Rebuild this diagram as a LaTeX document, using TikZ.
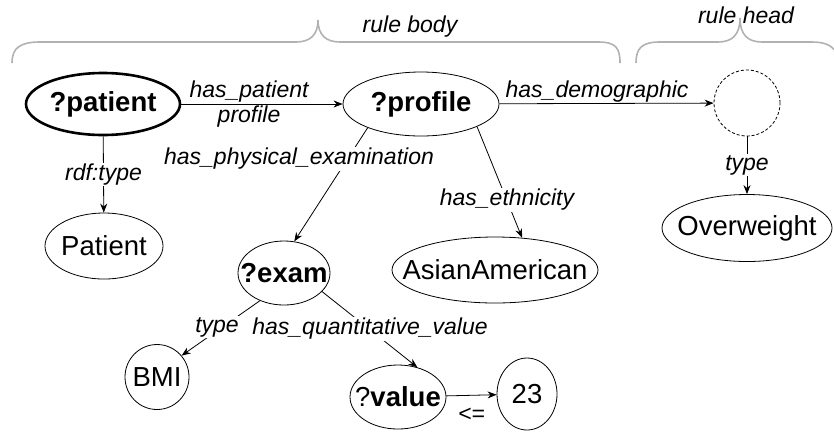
\documentclass[tikz,border=0pt]{standalone}
\usepackage{fontspec}
\setmainfont{Liberation Sans}
\usetikzlibrary{shapes.geometric,arrows.meta}
\newcommand\nodetxt[1]{\makebox[0pt]{#1}}
\begin{document}
\begin{tikzpicture}[x=1pt,y=-1pt,
  el/.style={ellipse,draw,inner sep=0pt,line width=0.8pt,font=\fontsize{27.5}{32}\selectfont},
  lbl/.style={font=\fontsize{23}{27}\selectfont\itshape,inner sep=1pt},
  wlbl/.style={lbl,fill=white},
  arr/.style={line width=0.8pt,-{Stealth[length=9pt,width=7pt]}},
  brace/.style={draw=gray!60,line width=1.6pt}]
\useasboundingbox (0,0) rectangle (834,432);
% braces
\draw[brace] (12,63) .. controls (12,48) and (20,42) .. (40,42) -- (296,42)
  .. controls (310,42) and (318,35) .. (318,20)
  .. controls (318,35) and (326,42) .. (340,42) -- (598,42)
  .. controls (616,42) and (620,48) .. (620,63);
\draw[brace] (636,63) .. controls (636,48) and (642,42) .. (660,42) -- (718,42)
  .. controls (732,42) and (740,35) .. (740,18)
  .. controls (740,35) and (748,42) .. (762,42) -- (812,42)
  .. controls (826,42) and (834,46) .. (838,56);
\node[lbl] (rb) at (410,27) {rule body};
\node[lbl] (rh) at (746,15) {rule head};
% nodes
\node[el,line width=2.6pt,minimum width=154pt,minimum height=62pt] (patient) at (103,104) {\nodetxt{\textbf{?patient}}};
\node[el,minimum width=156pt,minimum height=64pt] (profile) at (421,104) {\nodetxt{\textbf{?profile}}};
\node[el,circle,dash pattern=on 3pt off 2pt,minimum size=66pt] (demo) at (747,103) {};
\node[el,minimum width=170pt,minimum height=67pt] (over) at (747,228) {\nodetxt{Overweight}};
\node[el,minimum width=118pt,minimum height=66pt] (Patient) at (104,246) {\nodetxt{Patient}};
\node[el,minimum width=92pt,minimum height=64pt] (exam) at (284,273) {\nodetxt{\textbf{?exam}}};
\node[el,minimum width=206pt,minimum height=66pt] (asian) at (495,270) {\nodetxt{AsianAmerican}};
\node[el,minimum width=64pt,minimum height=65pt] (bmi) at (157,377) {\nodetxt{BMI}};
\node[el,minimum width=96pt,minimum height=64pt] (value) at (398,397) {\nodetxt{?\textbf{value}}};
\node[el,minimum width=60pt,minimum height=72pt] (v23) at (527,394) {\nodetxt{23}};
% edges
\draw[arr] (patient) -- (profile)
  node[lbl,pos=0.42,above] (l1) {has\_patient}
  node[lbl,pos=0.42,below] (l2) {profile};
\draw[arr] (patient) -- (Patient) node[wlbl,midway] (l3) {rdf:type};
\draw[arr] (profile.-156) -- (exam.72);
\node[wlbl] (l4) at (299,159) {has\_physical\_examination};
\draw[arr] (profile.-22) -- (asian.50);
\node[wlbl] (l5) at (507,200) {has\_ethnicity};
\draw[arr] (profile) -- (demo) node[lbl,pos=0.456,above] (l6) {has\_demographic};
\draw[arr] (demo) -- (over) node[wlbl,midway] (l7) {type};
\draw[arr] (exam.-131) -- (bmi.41);
\node[wlbl] (l8) at (217,327) {type};
\draw[arr] (exam.-26) -- (value.57);
\node[wlbl] (l9) at (370,329) {has\_quantitative\_value};
\draw[arr] (value) -- (v23) node[lbl,midway,below=11pt] (l10) {<=};
\end{tikzpicture}
\end{document}
